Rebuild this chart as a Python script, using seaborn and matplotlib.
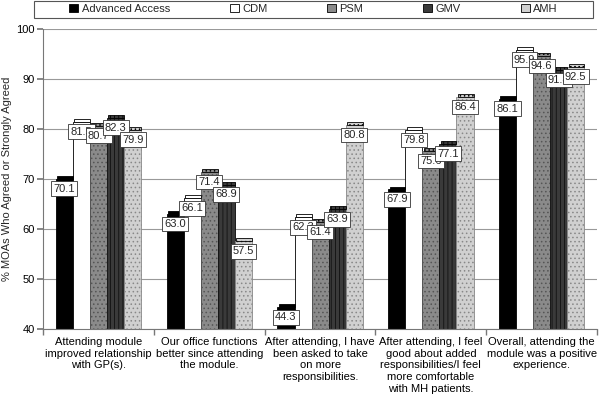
import matplotlib
matplotlib.use("Agg")
import matplotlib.pyplot as plt
import matplotlib.patches as mpatches
import seaborn as sns
import pandas as pd

categories = [
    "Attending module\nimproved relationship\nwith GP(s).",
    "Our office functions\nbetter since attending\nthe module.",
    "After attending, I have\nbeen asked to take\non more\nresponsibilities.",
    "After attending, I feel\ngood about added\nresponsibilities/I feel\nmore comfortable\nwith MH patients.",
    "Overall, attending the\nmodule was a positive\nexperience.",
]
series = ["Advanced Access", "CDM", "PSM", "GMV", "AMH"]
advanced_access = [70.1, 63.0, 44.3, 67.9, 86.1]
cdm = [81.5, 66.1, 62.3, 79.8, 95.9]
psm = [80.7, 71.4, 61.4, 75.6, 94.6]
gmv = [82.3, 68.9, 63.9, 77.1, 91.8]
amh = [79.9, 57.5, 80.8, 86.4, 92.5]
values = [advanced_access, cdm, psm, gmv, amh]

rows = []
for s, vals in zip(series, values):
    for c, v in zip(categories, vals):
        rows.append({"cat": c, "series": s, "val": v})
df = pd.DataFrame(rows)

sns.set_theme(style="white")
plt.rcParams["font.family"] = ["Liberation Sans", "DejaVu Sans"]
plt.rcParams["hatch.linewidth"] = 0.6

colors = ["#000000", "#ffffff", "#8a8a8a", "#3a3a3a", "#d0d0d0"]
hatches = [None, None, "....", "||||", "...."]
hatch_colors = ["black", "black", "#555555", "#111111", "#888888"]
FS = 8

fig, ax = plt.subplots(figsize=(6.0, 4.05), dpi=100)
fig.subplots_adjust(left=0.072, right=0.995, top=0.928, bottom=0.188)

sns.barplot(data=df, x="cat", y="val", hue="series", palette=colors,
            order=categories, hue_order=series, width=0.77,
            edgecolor="black", linewidth=0.6, ax=ax, legend=True)

for i, cont in enumerate(ax.containers):
    for bar in cont:
        bar.set_facecolor(colors[i])
        if hatches[i]:
            bar.set_hatch(hatches[i])
            bar.set_edgecolor(hatch_colors[i])
        h = bar.get_height()
        bx, bw = bar.get_x(), bar.get_width()
        # thin 3D-style top cap
        cap = mpatches.Rectangle((bx + bw * 0.08, h), bw * 0.92, 0.6,
                                 facecolor=colors[i], edgecolor="black",
                                 linewidth=0.6, hatch=hatches[i], zorder=bar.get_zorder())
        ax.add_patch(cap)
        ax.text(bx + bw / 2, h - 2.0, f"{h:.1f}", ha="center", va="center", fontsize=FS,
                bbox=dict(boxstyle="square,pad=0.2", fc="white", ec="#333333", lw=0.6),
                zorder=5)

ax.set_xlim(-0.5, 4.5)
ax.set_ylim(40, 100)
ax.set_yticks(range(40, 101, 10))
ax.yaxis.grid(True, color="#999999", linewidth=0.8)
ax.set_axisbelow(True)
ax.set_xlabel("")
ax.set_ylabel("% MOAs Who Agreed or Strongly Agreed", fontsize=FS)
ax.yaxis.set_label_coords(-0.056, 0.5)
ax.tick_params(axis="both", labelsize=FS, colors="black")
ax.set_xticks([i + 0.5 for i in range(-1, 5)], minor=True)
ax.tick_params(axis="x", which="major", length=0, pad=6)
ax.tick_params(axis="x", which="minor", length=4, bottom=True, color="#777777")
ax.tick_params(axis="y", left=True, length=4, color="#777777", pad=2)
for sp in ["top", "right"]:
    ax.spines[sp].set_visible(False)
for sp in ["left", "bottom"]:
    ax.spines[sp].set_color("#777777")
    ax.spines[sp].set_linewidth(0.8)

ax.get_legend().remove()
handles, labels = ax.get_legend_handles_labels()
leg = fig.legend(handles[:5], labels[:5], loc="center",
                 bbox_to_anchor=((34 + 593) / 2 / 600, 1 - 9 / 405), ncol=5,
                 frameon=False, fontsize=FS,
                 handlelength=0.8, handleheight=0.8, handletextpad=0.3,
                 columnspacing=5.4, borderpad=0.2, borderaxespad=0)
fig.add_artist(mpatches.Rectangle((34 / 600, 1 - 18 / 405), 559 / 600, 17.5 / 405,
                                  transform=fig.transFigure, fill=False,
                                  edgecolor="#555555", linewidth=0.8))

fig.savefig("out.png", dpi=100)
